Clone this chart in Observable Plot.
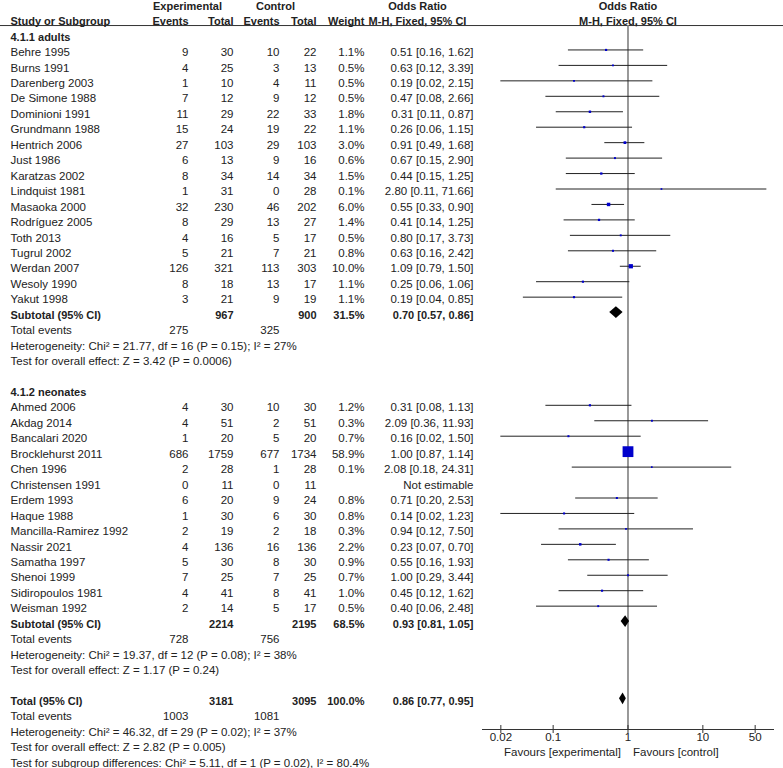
<!DOCTYPE html>
<html><head><meta charset="utf-8">
<script src="https://cdn.jsdelivr.net/npm/d3@7"></script>
<script src="https://cdn.jsdelivr.net/npm/@observablehq/plot@0.6"></script>
<style>body{margin:0;background:#fff} svg{display:block}</style>
</head><body><div id="chart"></div>
<script>
// ---------- data ----------
const adultsStudies = ["Behre 1995","Burns 1991","Darenberg 2003","De Simone 1988","Dominioni 1991","Grundmann 1988","Hentrich 2006","Just 1986","Karatzas 2002","Lindquist 1981","Masaoka 2000","Rodríguez 2005","Toth 2013","Tugrul 2002","Werdan 2007","Wesoly 1990","Yakut 1998"];
const adultsExpEvents = [9,4,1,7,11,15,27,6,8,1,32,8,4,5,126,8,3];
const adultsExpTotal  = [30,25,10,12,29,24,103,13,34,31,230,29,16,21,321,18,21];
const adultsCtlEvents = [10,3,4,9,22,19,29,9,14,0,46,13,5,7,113,13,9];
const adultsCtlTotal  = [22,13,11,12,33,22,103,16,34,28,202,27,17,21,303,17,19];
const adultsWeight    = [1.1,0.5,0.5,0.5,1.8,1.1,3.0,0.6,1.5,0.1,6.0,1.4,0.5,0.8,10.0,1.1,1.1];
const adultsOR        = [0.51,0.63,0.19,0.47,0.31,0.26,0.91,0.67,0.44,2.80,0.55,0.41,0.80,0.63,1.09,0.25,0.19];
const adultsLower     = [0.16,0.12,0.02,0.08,0.11,0.06,0.49,0.15,0.15,0.11,0.33,0.14,0.17,0.16,0.79,0.06,0.04];
const adultsUpper     = [1.62,3.39,2.15,2.66,0.87,1.15,1.68,2.90,1.25,71.66,0.90,1.25,3.73,2.42,1.50,1.06,0.85];

const neoStudies = ["Ahmed 2006","Akdag 2014","Bancalari 2020","Brocklehurst 2011","Chen 1996","Christensen 1991","Erdem 1993","Haque 1988","Mancilla-Ramirez 1992","Nassir 2021","Samatha 1997","Shenoi 1999","Sidiropoulos 1981","Weisman 1992"];
const neoExpEvents = [4,4,1,686,2,0,6,1,2,4,5,7,4,2];
const neoExpTotal  = [30,51,20,1759,28,11,20,30,19,136,30,25,41,14];
const neoCtlEvents = [10,2,5,677,1,0,9,6,2,16,8,7,8,5];
const neoCtlTotal  = [30,51,20,1734,28,11,24,30,18,136,30,25,41,17];
const neoWeight    = [1.2,0.3,0.7,58.9,0.1,null,0.8,0.8,0.3,2.2,0.9,0.7,1.0,0.5];
const neoOR        = [0.31,2.09,0.16,1.00,2.08,null,0.71,0.14,0.94,0.23,0.55,1.00,0.45,0.40];
const neoLower     = [0.08,0.36,0.02,0.87,0.18,null,0.20,0.02,0.12,0.07,0.16,0.29,0.12,0.06];
const neoUpper     = [1.13,11.93,1.50,1.14,24.31,null,2.53,1.23,7.50,0.70,1.93,3.44,1.62,2.48];

const subgroupNames   = ["4.1.1 adults","4.1.2 neonates"];
const subExpTotal     = [967,2214];
const subCtlTotal     = [900,2195];
const subWeight       = [31.5,68.5];
const subOR           = [0.70,0.93];
const subLower        = [0.57,0.81];
const subUpper        = [0.86,1.05];
const subExpEventsSum = [275,728];
const subCtlEventsSum = [325,756];
const subHet  = ["Heterogeneity: Chi² = 21.77, df = 16 (P = 0.15); I² = 27%","Heterogeneity: Chi² = 19.37, df = 12 (P = 0.08); I² = 38%"];
const subTest = ["Test for overall effect: Z = 3.42 (P = 0.0006)","Test for overall effect: Z = 1.17 (P = 0.24)"];

const totalExpTotal = 3181, totalCtlTotal = 3095, totalWeight = 100.0;
const totalOR = 0.86, totalLower = 0.77, totalUpper = 0.95;
const totalExpEvents = 1003, totalCtlEvents = 1081;
const totalHet  = "Heterogeneity: Chi² = 46.32, df = 29 (P = 0.02); I² = 37%";
const totalTest = "Test for overall effect: Z = 2.82 (P = 0.005)";
const subgroupDiff = "Test for subgroup differences: Chi² = 5.11, df = 1 (P = 0.02), I² = 80.4%";

const axisTicks = [0.02,0.1,1,10,50];
const favoursLeft = "Favours [experimental]", favoursRight = "Favours [control]";

// ---------- build rows ----------
const fmt2 = v => v.toFixed(2);
const orText = (o,l,u) => `${fmt2(o)} [${fmt2(l)}, ${fmt2(u)}]`;
const rows = [];
const diamonds = [];
let r = 0;
const groups = [
  {s:adultsStudies,ee:adultsExpEvents,et:adultsExpTotal,ce:adultsCtlEvents,ct:adultsCtlTotal,w:adultsWeight,o:adultsOR,l:adultsLower,u:adultsUpper},
  {s:neoStudies,ee:neoExpEvents,et:neoExpTotal,ce:neoCtlEvents,ct:neoCtlTotal,w:neoWeight,o:neoOR,l:neoLower,u:neoUpper}
];
groups.forEach((g,gi) => {
  rows.push({row:r++, study:subgroupNames[gi], bold:true});
  g.s.forEach((s,i) => rows.push({row:r++, study:s, expE:g.ee[i], expT:g.et[i], ctlE:g.ce[i], ctlT:g.ct[i],
    weight:g.w[i], or:g.o[i], lo:g.l[i], hi:g.u[i],
    wTxt: g.w[i]==null ? null : g.w[i].toFixed(1)+"%",
    orTxt: g.o[i]==null ? "Not estimable" : orText(g.o[i],g.l[i],g.u[i]), study_row:true}));
  diamonds.push({row:r, est:subOR[gi], lo:subLower[gi], hi:subUpper[gi], key:"s"+gi});
  rows.push({row:r++, study:"Subtotal (95% CI)", bold:true, expT:subExpTotal[gi], ctlT:subCtlTotal[gi],
    wTxt: subWeight[gi].toFixed(1)+"%", orTxt: orText(subOR[gi],subLower[gi],subUpper[gi])});
  rows.push({row:r++, study:"Total events", expE:subExpEventsSum[gi], ctlE:subCtlEventsSum[gi]});
  rows.push({row:r++, study:subHet[gi]});
  rows.push({row:r++, study:subTest[gi]});
  r++;
});
diamonds.push({row:r, est:totalOR, lo:totalLower, hi:totalUpper, key:"t"});
rows.push({row:r++, study:"Total (95% CI)", bold:true, expT:totalExpTotal, ctlT:totalCtlTotal,
  wTxt: totalWeight.toFixed(1)+"%", orTxt: orText(totalOR,totalLower,totalUpper)});
rows.push({row:r++, study:"Total events", expE:totalExpEvents, ctlE:totalCtlEvents});
rows.push({row:r++, study:totalHet});
rows.push({row:r++, study:totalTest});
rows.push({row:r++, study:subgroupDiff});

const studyRows = rows.filter(d => d.study_row && d.or != null);
const diamondPts = diamonds.flatMap(d => [
  {key:d.key, x:d.lo, y1:d.row, y2:d.row},
  {key:d.key, x:d.est, y1:d.row-0.38, y2:d.row+0.38},
  {key:d.key, x:d.hi, y1:d.row, y2:d.row}
]);

// ---------- layout ----------
const W = 783, H = 768, ML = 482, MR = 10, MT = 25, MB = 39;
const FONT = '"Liberation Sans", Arial, sans-serif';
const FS = 11.5, FSB = 11;
const TXT = "#222";
const TDY = 2.5;

function col(field, xPos, anchor, data) {
  const marks = [];
  for (const bold of [false, true]) {
    const sub = data.filter(d => d[field] != null && !!d.bold === bold);
    marks.push(Plot.text(sub, {y:"row", text: d => String(d[field]), frameAnchor:"left",
      dx: xPos - ML, dy: TDY, textAnchor: anchor, fontWeight: bold ? "bold" : "normal", fill: TXT, fontSize: bold ? FSB : FS}));
  }
  return marks;
}

const headerTop = [
  {row:-2, text:"Experimental", x:187, anchor:"middle"},
  {row:-2, text:"Control", x:275, anchor:"middle"},
  {row:-2, text:"Odds Ratio", x:417, anchor:"middle"},
  {row:-1, text:"Study or Subgroup", x:10, anchor:"start"},
  {row:-1, text:"Events", x:188, anchor:"end"},
  {row:-1, text:"Total", x:233, anchor:"end"},
  {row:-1, text:"Events", x:279, anchor:"end"},
  {row:-1, text:"Total", x:316, anchor:"end"},
  {row:-1, text:"Weight", x:364, anchor:"end"},
  {row:-1, text:"M-H, Fixed, 95% CI", x:417, anchor:"middle"}
];
const headerPlot = [
  {row:-2, text:"Odds Ratio", x:1},
  {row:-1, text:"M-H, Fixed, 95% CI", x:1}
];
const frameH = H - MT - MB;

const plot = Plot.plot({
  width: W, height: H,
  marginLeft: ML, marginRight: MR, marginTop: MT, marginBottom: MB,
  style: {fontFamily: FONT, fontSize: FS+"px", color: TXT, background: "#fff", overflow: "visible"},
  x: {type: "log", domain: [0.01138, 87.9], axis: null},
  y: {domain: [0, 47], range: [34, 34 + 47*15.45], axis: null},
  r: {type: "pow", exponent: 0.7, domain: [0, 58.9], range: [0.9, 6.1]},
  marks: [
    // header separator
    Plot.ruleY([-0.58], {stroke: "#333", strokeWidth: 1, insetLeft: -ML, insetRight: -MR}),
    // null line
    Plot.ruleX([1], {stroke: "#808080", strokeWidth: 1.6}),
    // axis line, ticks and labels
    Plot.frame({anchor: "bottom", stroke: "#333"}),
    Plot.tickX(axisTicks, {x: d => d, stroke: "#333", insetTop: frameH - 4, insetBottom: -4}),
    Plot.text(axisTicks, {x: d => d, text: d => String(d), frameAnchor: "bottom", dy: 11.5, fill: TXT, fontSize: FS}),
    Plot.text([favoursLeft], {x: () => 1, text: d => d, frameAnchor: "bottom", dy: 26, dx: -7, textAnchor: "end", fill: TXT, fontSize: FS}),
    Plot.text([favoursRight], {x: () => 1, text: d => d, frameAnchor: "bottom", dy: 26, dx: 5, textAnchor: "start", fill: TXT, fontSize: FS}),
    // CIs and points
    Plot.ruleY(studyRows, {y: "row", x1: "lo", x2: "hi", stroke: "#222", strokeWidth: 1}),
    Plot.dot(studyRows, {x: "or", y: "row", r: "weight", symbol: "square", fill: "#0000cc", stroke: null}),
    Plot.areaY(diamondPts, {x: "x", y1: "y1", y2: "y2", z: "key", fill: "#000", curve: "linear"}),
    // headers
    ...headerTop.map(h => Plot.text([h], {y: "row", text: "text", frameAnchor: "left", dx: h.x - ML, dy: TDY, textAnchor: h.anchor, fontWeight: "bold", fill: TXT, fontSize: FSB})),
    Plot.text(headerPlot, {x: "x", y: "row", text: "text", dy: TDY, textAnchor: "middle", fontWeight: "bold", fill: TXT, fontSize: FSB}),
    // table columns
    ...col("study", 10, "start", rows),
    ...col("expE", 188, "end", rows),
    ...col("expT", 233, "end", rows),
    ...col("ctlE", 279, "end", rows),
    ...col("ctlT", 316, "end", rows),
    ...col("wTxt", 364, "end", rows),
    ...col("orTxt", 473, "end", rows)
  ]
});
document.getElementById("chart").appendChild(plot);
</script></body></html>
